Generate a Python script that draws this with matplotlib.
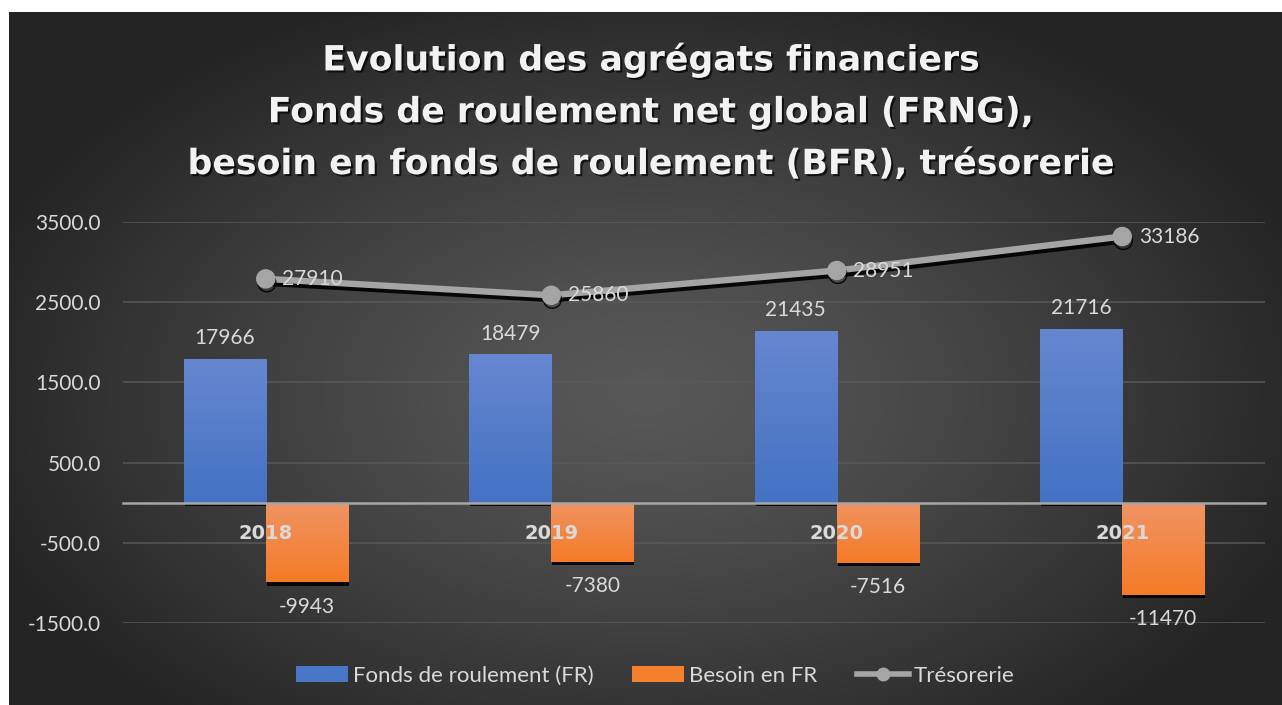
import numpy as np
import matplotlib
matplotlib.use("Agg")
import matplotlib.pyplot as plt
import matplotlib.patheffects as pe
from matplotlib.colors import LinearSegmentedColormap

# data (labels show the raw values, the chart plots them / 10)
years = ["2018", "2019", "2020", "2021"]
fonds_roulement = [17966, 18479, 21435, 21716]
besoin_fr = [-9943, -7380, -7516, -11470]
tresorerie = [27910, 25860, 28951, 33186]
scale = 10.0
y_ticks = [-1500, -500, 500, 1500, 2500, 3500]

title = ("Evolution des agrégats financiers\n"
         "Fonds de roulement net global (FRNG),\n"
         "besoin en fonds de roulement (BFR), trésorerie")

txt_col = "#D9D9D9"
plt.rcParams["font.family"] = ["Lato", "DejaVu Sans"]

W, H = 1282, 705
fig = plt.figure(figsize=(W / 100, H / 100), dpi=100, facecolor="white")

# radial gradient background of the chart area
bg = fig.add_axes([9 / W, 0, 1 - 9 / W, 1 - 12 / H], zorder=-5)
bg.set_axis_off()
gx, gy = np.meshgrid(np.linspace(0, 1, 400), np.linspace(0, 1, 250))
r = np.sqrt(((gx - 0.5) / 0.55) ** 2 + ((gy - 0.55) / 0.62) ** 2)
r = np.clip(r, 0, 1)
c_in, c_out = np.array([0x58, 0x58, 0x58]) / 255, np.array([0x24, 0x24, 0x24]) / 255
img = c_in[None, None, :] * (1 - r[..., None] ** 1.3) + c_out[None, None, :] * (r[..., None] ** 1.3)
bg.imshow(img, extent=(0, 1, 0, 1), aspect="auto", origin="upper")
bg.set_xlim(0, 1)
bg.set_ylim(0, 1)

ax = fig.add_axes([123 / W, (H - 623) / H, 1142 / W, 401 / H])
ax.set_facecolor("none")

# spines first: moving a spine resets the ticks
for s in ("left", "right", "top"):
    ax.spines[s].set_visible(False)
ax.spines["bottom"].set_position(("data", 0))
ax.spines["bottom"].set_color("#A6A6A6")
ax.spines["bottom"].set_linewidth(1.8)

x = np.arange(len(years))
bw = 0.2875
fr = np.array(fonds_roulement) / scale
bfr = np.array(besoin_fr) / scale
tr = np.array(tresorerie) / scale

shadow = [pe.SimplePatchShadow(offset=(0.6, -2.4), shadow_rgbFace="black", alpha=0.85), pe.Normal()]
bars_fr = ax.bar(x - bw / 2, fr, bw, color="#4A76C8", label="Fonds de roulement (FR)",
                 path_effects=shadow, zorder=1)
bars_bfr = ax.bar(x + bw / 2, bfr, bw, color="#F4802E", label="Besoin en FR",
                  path_effects=shadow, zorder=1)

# vertical gradient inside the bars
cm_fr = LinearSegmentedColormap.from_list("fr", ["#4472C4", "#6687D0"])
cm_bfr = LinearSegmentedColormap.from_list("bfr", ["#F57B27", "#F09363"])
grad = np.linspace(0, 1, 100).reshape(-1, 1)
for bars, cm in ((bars_fr, cm_fr), (bars_bfr, cm_bfr)):
    for b in bars:
        x0, y0 = b.get_x(), b.get_y()
        w, h = b.get_width(), b.get_height()
        lo, hi = min(y0, y0 + h), max(y0, y0 + h)
        im = ax.imshow(grad, cmap=cm, extent=(x0, x0 + w, lo, hi), origin="lower",
                       aspect="auto", zorder=1.05)
        im.set_clip_path(b)

line, = ax.plot(x, tr, color="#A5A5A5", lw=4.6, marker="o", ms=13, label="Trésorerie", zorder=3,
                path_effects=[pe.SimpleLineShadow(offset=(0.8, -2.8), shadow_color="black", alpha=0.9),
                              pe.Normal()])

lab_kw = dict(color=txt_col, fontsize=15, textcoords="offset points", zorder=6)
for xi, v, raw in zip(x, fr, fonds_roulement):
    ax.annotate(str(raw), (xi - bw / 2, v), xytext=(0, 15), ha="center", va="center", **lab_kw)
for xi, v, raw in zip(x, bfr, besoin_fr):
    ax.annotate(str(raw), (xi + bw / 2, v), xytext=(0, -17.5), ha="center", va="center", **lab_kw)
for xi, v, raw in zip(x, tr, tresorerie):
    ax.annotate(str(raw), (xi, v), xytext=(12, 0), ha="left", va="center", **lab_kw)

ax.set_xlim(-0.5, len(years) - 0.5)
ax.set_ylim(-1500, 3500)

ax.set_yticks(y_ticks)
ax.set_yticklabels(["{:.1f}".format(v) for v in y_ticks])
ax.yaxis.grid(True, color="#5A5A5A", lw=1.3, alpha=0.8)
ax.yaxis.set_zorder(0.5)
ax.tick_params(axis="y", length=0, pad=16, colors=txt_col, labelsize=15)

ax.set_xticks(x)
ax.xaxis.set_zorder(5)
ax.tick_params(axis="x", length=0, pad=15, colors=txt_col)
ax.set_xticklabels(years, fontsize=14, fontweight="bold", family="DejaVu Sans")

fig.text(651 / W, 1 - 111.5 / H, title, ha="center", va="center", fontsize=25,
         fontweight="bold", family="DejaVu Sans", color="#F2F2F2", linespacing=1.66,
         path_effects=[pe.SimplePatchShadow(offset=(1.5, -1.5), shadow_rgbFace="black", alpha=0.7),
                       pe.Normal()])

leg = fig.legend(handles=[bars_fr, bars_bfr, line], loc="center", bbox_to_anchor=(655 / W, 29 / H),
                 ncol=3, frameon=False, fontsize=16, labelcolor=txt_col, handlelength=2.35,
                 handletextpad=0.22, columnspacing=1.75, numpoints=1)
for hnd in leg.legend_handles:
    hnd.set_path_effects([])
leg.legend_handles[2].set_markersize(9)
leg.legend_handles[2].set_linewidth(4)

fig.savefig("out.png", dpi=100, facecolor="white")
